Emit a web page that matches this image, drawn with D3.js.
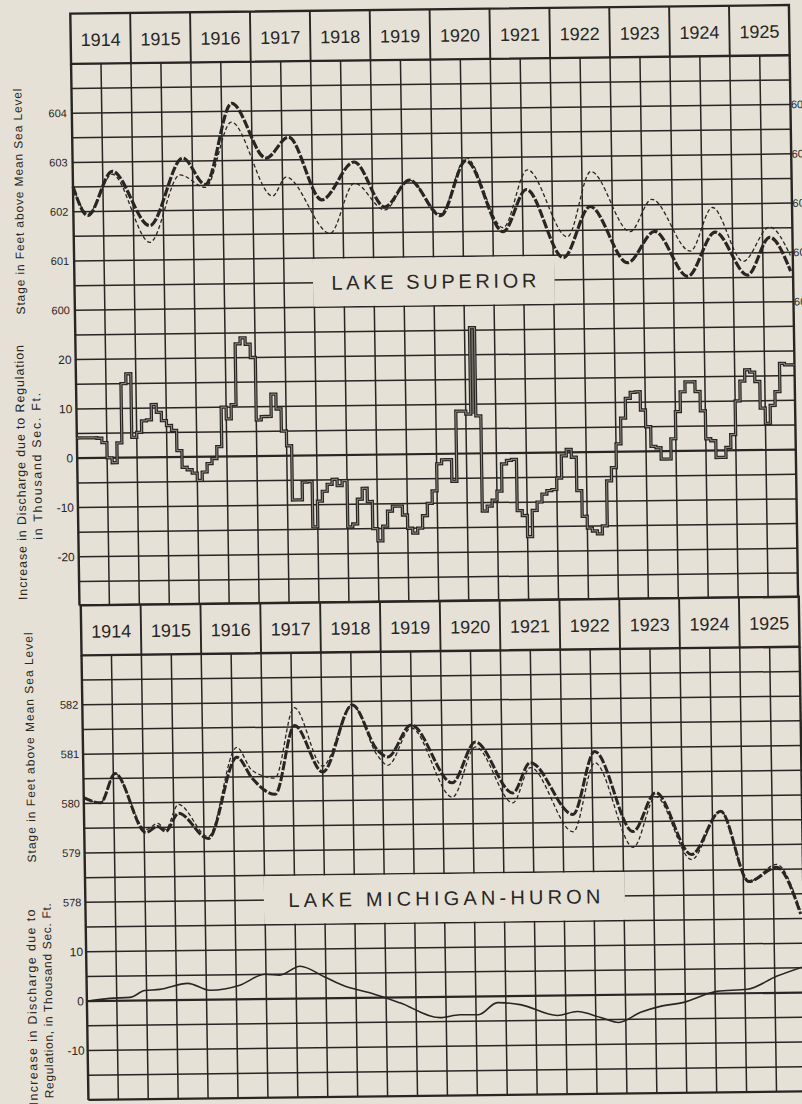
<!DOCTYPE html>
<html>
<head>
<meta charset="utf-8">
<script src="https://cdn.jsdelivr.net/npm/d3@7"></script>
<style>
  html, body { margin: 0; padding: 0; background: #e5e1d6; }
  svg { display: block; }
</style>
</head>
<body>
<div id="chart"></div>
<script>
// ---- data ----
const years = d3.range(1914, 1926);

// Lake Superior stage, feet above mean sea level (heavy = regulated, thin = natural)
const supHeavyT = [1914.00, 1914.24, 1914.66, 1915.27, 1915.84, 1916.21, 1916.67, 1917.23, 1917.61, 1918.15, 1918.70, 1919.20, 1919.62,
                   1920.13, 1920.57, 1921.17, 1921.57, 1922.17, 1922.63, 1923.24, 1923.70, 1924.24, 1924.71, 1925.24, 1925.62, 1925.96];
const supHeavy  = [602.51, 601.92, 602.81, 601.70, 603.06, 602.52, 604.16, 603.04, 603.46, 602.18, 602.94, 602.02, 602.56,
                   601.83, 602.94, 601.49, 602.34, 600.95, 601.98, 600.83, 601.46, 600.54, 601.43, 600.55, 601.31, 600.62];
const supThinT  = [1914.00, 1914.24, 1914.66, 1915.27, 1915.79, 1916.21, 1916.66, 1917.33, 1917.56, 1918.28, 1918.70, 1919.20, 1919.62,
                   1920.13, 1920.57, 1921.17, 1921.59, 1922.24, 1922.65, 1923.29, 1923.66, 1924.29, 1924.67, 1925.17, 1925.62, 1925.96];
const supThin   = [602.51, 601.96, 602.75, 601.36, 602.72, 602.46, 603.78, 602.27, 602.65, 601.50, 602.51, 601.96, 602.56,
                   601.87, 603.00, 601.57, 602.74, 601.37, 602.69, 601.46, 602.11, 601.05, 601.93, 600.83, 601.52, 600.94];

// Lake Superior increase in discharge, thousand sec. ft., monthly Jan 1914 - Dec 1925
const supDischarge = [
  4.1, 4.1, 4.1, 4.1, 4.0, 3.1, 0.0, -1.0, 3.0, 15.0, 17.0, 4.1,                 // 1914
  5.1, 7.4, 7.6, 10.7, 9.1, 7.4, 6.4, 5.4, 1.3, -2.1, -2.6, -3.3,                 // 1915
  -4.8, -3.1, -1.4, -0.4, 2.0, 10.0, 7.6, 10.5, 22.8, 24.0, 22.7, 20.0,           // 1916
  7.3, 8.0, 8.0, 12.5, 9.5, 5.0, 2.0, -9.0, -9.0, -5.4, -5.3, -14.5,              // 1917
  -9.3, -7.3, -5.9, -4.9, -6.2, -5.2, -14.6, -14.0, -9.0, -6.8, -9.5, -15.0,      // 1918
  -17.5, -14.5, -11.5, -10.5, -10.5, -12.3, -15.0, -16.0, -15.0, -12.5, -10.0, -7.5, // 1919
  -2.0, -1.2, -1.2, -5.6, 8.6, 8.6, 8.0, 25.5, 7.6, -11.7, -10.7, -9.5,           // 1920
  -7.7, -2.2, -1.5, -1.3, -11.7, -12.7, -17.0, -11.7, -10.0, -8.4, -7.7, -7.5,    // 1921
  -5.2, -0.7, 0.6, -1.0, -7.8, -13.0, -15.4, -16.0, -16.6, -15.0, -5.9, -3.2,     // 1922
  1.6, 6.8, 10.8, 12.0, 12.1, 8.4, 5.0, 1.0, 0.7, -1.6, -1.6, 2.5,                // 1923
  8.0, 12.0, 14.0, 14.0, 12.0, 8.1, 2.4, 2.0, -1.4, -1.4, 0.6, 3.2,               // 1924
  10.0, 14.0, 16.3, 15.8, 13.9, 8.5, 5.4, 9.0, 11.8, 17.5, 17.2, 17.2             // 1925
];
const supShadedMonths = [79]; // Aug 1920, drawn as a filled column
const supStageTicks = [604, 603, 602, 601, 600];
const supDischargeTicks = [20, 10, 0, -10, -20];

// Lake Michigan-Huron stage
const mhT     = [1914.00, 1914.28, 1914.53, 1915.03, 1915.23, 1915.36, 1915.58, 1916.07, 1916.57, 1916.82, 1917.20, 1917.54, 1918.00, 1918.51, 1918.92,
                 1919.09, 1919.49, 1920.16, 1920.56, 1921.17, 1921.47, 1922.17, 1922.55, 1923.17, 1923.56, 1924.14, 1924.64, 1925.09, 1925.56, 1925.95];
const mhHeavy = [580.12, 580.01, 580.60, 579.40, 579.52, 579.42, 579.78, 579.26, 580.90, 580.47, 580.14, 581.53, 580.58, 581.93, 581.01,
                 580.87, 581.51, 580.33, 581.15, 580.11, 580.72, 579.66, 580.93, 579.30, 580.08, 578.82, 579.69, 578.26, 578.54, 577.59];
const mhThin  = [580.12, 580.01, 580.60, 579.46, 579.58, 579.46, 579.96, 579.30, 581.10, 580.63, 580.47, 581.89, 580.70, 581.93, 580.90,
                 580.70, 581.45, 580.04, 581.05, 579.91, 580.62, 579.31, 580.70, 578.98, 580.00, 578.72, 579.69, 578.26, 578.60, 577.65];

// Lake Michigan-Huron increase in discharge
const mhDischargeT = [1914.02, 1914.38, 1914.72, 1914.97, 1915.22, 1915.69, 1916.06, 1916.56, 1916.98, 1917.23, 1917.57, 1917.98, 1918.31, 1918.73, 1919.23, 1919.90,
                      1920.23, 1920.54, 1920.86, 1921.24, 1921.86, 1922.19, 1922.58, 1922.88, 1923.25, 1923.58, 1923.97, 1924.53, 1925.04, 1925.54, 1925.96];
const mhDischarge  = [0.0, 0.5, 0.65, 2.0, 2.2, 3.35, 1.9, 2.85, 5.0, 4.8, 6.55, 4.3, 2.45, 1.0, -1.1, -4.2,
                      -3.65, -3.7, -1.3, -1.75, -4.05, -3.3, -4.55, -5.6, -3.6, -2.45, -1.7, 0.45, 0.8, 3.4, 5.15];
const mhStageTicks = [582, 581, 580, 579, 578];
const mhDischargeTicks = [10, 0, -10];

// ---- drawing ----
const W = 802, H = 1104;
const paper = '#e5e1d6', ink = '#282623';
const font = 'Liberation Sans, Arial, sans-serif';

const svg = d3.select('#chart').append('svg').attr('width', W).attr('height', H);
svg.append('rect').attr('width', W).attr('height', H).attr('fill', paper);

// the plate is scanned slightly skewed
const g = svg.append('g').attr('transform', 'matrix(1,-0.012,0.0155,1,-8.56,4.81)');

// Superior scales
const xS = d3.scaleLinear([1914, 1926], [78.7, 797.3]);
const yS = d3.scaleLinear([605, 600], [60, 306.4]);
const yD = d3.scaleLinear([20, -20], [355.7, 553]);
// Michigan-Huron scales
const xM = d3.scaleLinear([1914, 1926], [80, 798]);
const yM = d3.scaleLinear([583, 578], [651.5, 898.5]);
const yMD = d3.scaleLinear([10, -10], [947.9, 1046.7]);

function header(x, top, bottom) {
  const h = g.append('g');
  h.append('rect')
    .attr('x', x(1914)).attr('y', top)
    .attr('width', x(1926) - x(1914)).attr('height', bottom - top)
    .attr('fill', paper).attr('stroke', ink).attr('stroke-width', 2.4);
  h.selectAll('line').data(years.slice(1)).enter().append('line')
    .attr('x1', d => x(d)).attr('x2', d => x(d))
    .attr('y1', top).attr('y2', bottom)
    .attr('stroke', ink).attr('stroke-width', 1.9);
  h.selectAll('text').data(years).enter().append('text')
    .attr('x', d => x(d + 0.5)).attr('y', (top + bottom) / 2 + 1)
    .attr('dy', '0.36em')
    .attr('text-anchor', 'middle')
    .attr('font-family', font).attr('font-size', 18)
    .attr('fill', ink)
    .text(d => d);
}

function grid(x, rows, top, bottom, zeroY) {
  const gr = g.append('g');
  gr.selectAll('.v').data(d3.range(1914, 1926.01, 0.5)).enter().append('line')
    .attr('x1', d => x(d)).attr('x2', d => x(d))
    .attr('y1', top).attr('y2', bottom)
    .attr('stroke', ink)
    .attr('stroke-width', d => (d === 1914 || d === 1926) ? 2.4 : 1.5);
  gr.selectAll('.h').data(rows).enter().append('line')
    .attr('x1', x(1914)).attr('x2', x(1926))
    .attr('y1', d => d).attr('y2', d => d)
    .attr('stroke', ink)
    .attr('stroke-width', d => Math.abs(d - zeroY) < 0.5 ? 2.2 : (d === bottom ? 2.2 : 1.5));
}

function labelBox(x0, x1, y0, y1, txt, len) {
  g.append('rect')
    .attr('x', x0).attr('y', y0)
    .attr('width', x1 - x0).attr('height', y1 - y0)
    .attr('fill', paper);
  g.append('text')
    .attr('x', (x0 + x1) / 2).attr('y', (y0 + y1) / 2)
    .attr('dy', '0.36em')
    .attr('text-anchor', 'middle')
    .attr('font-family', font).attr('font-size', 20)
    .attr('textLength', len).attr('lengthAdjust', 'spacing')
    .attr('fill', ink)
    .text(txt);
}

function tickLabels(y, ticks, xRight, size, anchor) {
  g.append('g').selectAll('text').data(ticks).enter().append('text')
    .attr('x', xRight).attr('y', d => y(d))
    .attr('dy', '0.35em')
    .attr('text-anchor', anchor || 'end')
    .attr('font-family', font).attr('font-size', size)
    .attr('fill', ink)
    .text(d => d);
}

function vTitle(cx, cy, txt, len, size) {
  g.append('text')
    .attr('transform', `translate(${cx},${cy}) rotate(-90)`)
    .attr('dy', '0.35em')
    .attr('text-anchor', 'middle')
    .attr('font-family', font).attr('font-size', size)
    .attr('textLength', len).attr('lengthAdjust', 'spacing')
    .attr('fill', ink)
    .text(txt);
}

// ---------- Lake Superior ----------
const supRows = d3.range(600, 605.01, 0.5).map(yS)
  .concat(d3.range(-25, 25.01, 5).map(yD))
  .concat([601.5]);
grid(xS, supRows, 60, 601.5, yD(0));
header(xS, 9.8, 60);
labelBox(xS(1918) - 1, xS(1922) + 1, yS(601) + 0.8, yS(600) - 0.8, 'LAKE  SUPERIOR', 205);

tickLabels(yS, supStageTicks, xS(1914) - 5, 11);
// right-hand scale, cut off by the edge of the plate
tickLabels(yS, supStageTicks, xS(1926) + 0.5, 11, 'start');
tickLabels(yD, supDischargeTicks, xS(1914) - 4, 12);

vTitle(24.5, 197, 'Stage in Feet above Mean Sea Level', 226, 12);
vTitle(22.2, 468, 'Increase in Discharge due to Regulation', 255, 12.5);
vTitle(38.3, 462, 'in Thousand Sec. Ft.', 147, 12.5);

// stage curves
const supLine = d3.line().x(d => xS(d[0])).y(d => yS(d[1])).curve(d3.curveMonotoneX);
g.append('path').datum(d3.zip(supThinT, supThin))
  .attr('d', supLine).attr('fill', 'none')
  .attr('stroke', ink).attr('stroke-width', 1.3).attr('stroke-dasharray', '4,2.5');
g.append('path').datum(d3.zip(supHeavyT, supHeavy))
  .attr('d', supLine).attr('fill', 'none')
  .attr('stroke', ink).attr('stroke-width', 3.2).attr('stroke-dasharray', '9,2');

// discharge steps (monthly), drawn as a heavy line with a faint light core
const supSteps = supDischarge.map((v, i) => [1914 + i / 12, v]);
supSteps.push([1926, supDischarge[supDischarge.length - 1]]);
const stepLine = d3.line().x(d => xS(d[0])).y(d => yD(d[1])).curve(d3.curveStepAfter);

g.append('g').selectAll('rect').data(supShadedMonths).enter().append('rect')
  .attr('x', i => xS(1914 + i / 12)).attr('width', xS(1914 + 1 / 12) - xS(1914))
  .attr('y', i => yD(supDischarge[i]))
  .attr('height', i => yD(Math.max(supDischarge[i - 1], supDischarge[i + 1])) - yD(supDischarge[i]))
  .attr('fill', '#6f6b65');
g.append('path').datum(supSteps).attr('d', stepLine).attr('fill', 'none')
  .attr('stroke', ink).attr('stroke-width', 3.3).attr('stroke-linejoin', 'miter');
g.append('path').datum(supSteps).attr('d', stepLine).attr('fill', 'none')
  .attr('stroke', paper).attr('stroke-width', 0.9).attr('stroke-opacity', 0.6);

// ---------- Lake Michigan-Huron ----------
const mhRows = d3.range(578, 583.01, 0.5).map(yM)
  .concat(d3.range(-20, 15.01, 5).map(yMD));
grid(xM, mhRows, 651.5, yMD(-20), yMD(0));
header(xM, 601.5, 651.5);
labelBox(xM(1917) - 1, xM(1923) + 1, yM(578.5) + 0.8, yM(577.5) - 0.8, 'LAKE  MICHIGAN-HURON', 312);

tickLabels(yM, mhStageTicks, xM(1914) - 4, 11);
tickLabels(yMD, mhDischargeTicks, xM(1914) - 3, 12);

vTitle(27, 743, 'Stage in Feet above Mean Sea Level', 230, 12);
vTitle(25, 1003, 'Increase in Discharge due to', 196, 12.5);
vTitle(41, 996.5, 'Regulation, in Thousand Sec. Ft.', 195, 12);

const mhLine = d3.line().x(d => xM(d[0])).y(d => yM(d[1])).curve(d3.curveMonotoneX);
g.append('path').datum(d3.zip(mhT, mhThin))
  .attr('d', mhLine).attr('fill', 'none')
  .attr('stroke', ink).attr('stroke-width', 1.3).attr('stroke-dasharray', '4,2.5');
g.append('path').datum(d3.zip(mhT, mhHeavy))
  .attr('d', mhLine).attr('fill', 'none')
  .attr('stroke', ink).attr('stroke-width', 3).attr('stroke-dasharray', '9,2');

const mhDisLine = d3.line().x(d => xM(d[0])).y(d => yMD(d[1])).curve(d3.curveMonotoneX);
g.append('path').datum(d3.zip(mhDischargeT, mhDischarge))
  .attr('d', mhDisLine).attr('fill', 'none')
  .attr('stroke', ink).attr('stroke-width', 1.6);
</script>
</body>
</html>
